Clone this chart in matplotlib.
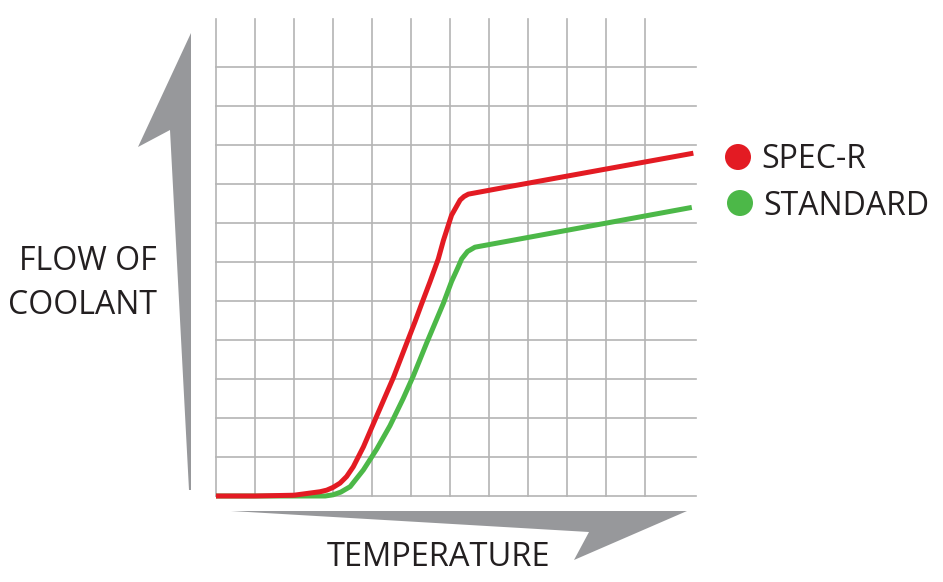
import matplotlib
matplotlib.use("Agg")
import matplotlib.pyplot as plt
from matplotlib.patches import Polygon, Circle
from matplotlib.transforms import Affine2D

# data (grid cells as units)
series_names = ["SPEC-R", "STANDARD"]
series_colors = ["#e31b23", "#4cb848"]

spec_r_x = [0, 1.0, 2.0, 2.67, 2.84, 3.0, 3.18, 3.35, 3.52, 3.78, 4.03, 4.29, 4.55,
            4.89, 5.10, 5.27, 5.49, 5.70, 5.83, 6.04, 6.26, 6.36, 6.47, 7.28, 12.24]
spec_r_y = [0, 0, 0.02, 0.11, 0.15, 0.22, 0.33, 0.50, 0.75, 1.26, 1.84, 2.44, 3.04,
            3.92, 4.46, 4.92, 5.50, 6.08, 6.55, 7.20, 7.59, 7.68, 7.74, 7.89, 8.79]

standard_x = [0, 2.0, 2.8, 3.0, 3.2, 3.44, 3.78, 4.12, 4.46, 4.80, 5.06, 5.40,
              5.83, 6.04, 6.20, 6.30, 6.45, 6.64, 12.2]
standard_y = [0, 0, 0.0, 0.03, 0.10, 0.24, 0.67, 1.20, 1.80, 2.50, 3.08, 3.92,
              4.94, 5.50, 5.85, 6.08, 6.27, 6.38, 7.40]

grid_x = list(range(12))
grid_y = list(range(12))

x_label = "TEMPERATURE"
y_label = ["FLOW OF", "COOLANT"]

W, H, DPI = 943, 582, 100
fig = plt.figure(figsize=(W / DPI, H / DPI), dpi=DPI)
plt.rcParams['font.family'] = ['Open Sans', 'DejaVu Sans']

# pixel coords, origin top-left
pix = Affine2D().scale(1, -1).translate(0, H).scale(1 / DPI) + fig.dpi_scale_trans

left, right, top, bottom = 216, 696, 19, 496
ax = fig.add_axes([left / W, (H - bottom) / H, (right - left) / W, (bottom - top) / H])
xmax = (right - left) / 39.0
ymax = (bottom - top) / 39.0
ax.set_xlim(0, xmax)
ax.set_ylim(0, ymax)
ax.axis('off')

grid_col = "#b4b4b4"
for gx in grid_x:
    ax.plot([gx, gx], [0, ymax], color=grid_col, lw=1.2, zorder=1, clip_on=False)
for gy in grid_y:
    ax.plot([0, xmax], [gy, gy], color=grid_col, lw=1.2, zorder=1, clip_on=False)

ax.plot(standard_x, standard_y, color=series_colors[1], lw=3.6, zorder=3,
        solid_capstyle='butt', solid_joinstyle='round', clip_on=False)
ax.plot(spec_r_x, spec_r_y, color=series_colors[0], lw=3.6, zorder=4,
        solid_capstyle='butt', solid_joinstyle='round', clip_on=False)

# gray arrows
arrow_col = "#97989b"
y_arrow = [(191, 33), (191, 490), (189, 490), (170, 130), (138, 147)]
x_arrow = [(231, 511), (687, 511), (574, 560), (589, 532)]
for shape in (y_arrow, x_arrow):
    fig.patches.append(Polygon(shape, closed=True, facecolor=arrow_col,
                               edgecolor='none', transform=pix, figure=fig))

text_col = "#231f20"
fig.text(157, 270, y_label[0], transform=pix, ha='right', va='baseline',
         fontsize=23, color=text_col)
fig.text(157, 314, y_label[1], transform=pix, ha='right', va='baseline',
         fontsize=23, color=text_col)
fig.text(327, 566, x_label, transform=pix, ha='left', va='baseline',
         fontsize=23.5, color=text_col)

# legend
legend_pos = [(738, 157, 168), (740, 203, 215)]
for name, col, (cx, cy, base) in zip(series_names, series_colors, legend_pos):
    fig.patches.append(Circle((cx, cy), 13, facecolor=col, edgecolor='none',
                              transform=pix, figure=fig))
    fig.text(cx + 23, base, name, transform=pix, ha='left', va='baseline',
             fontsize=23, color=text_col)

fig.savefig("out.png", dpi=DPI)
